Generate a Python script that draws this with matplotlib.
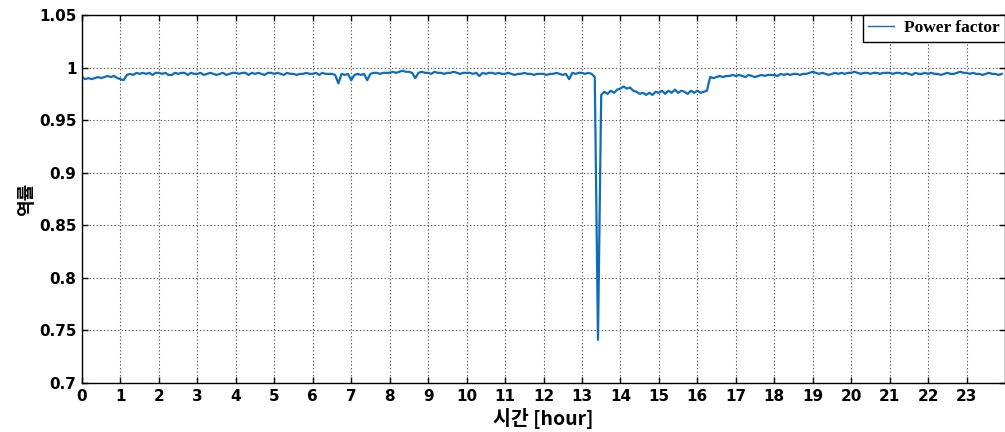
import numpy as np
import matplotlib
matplotlib.use("Agg")
import matplotlib.pyplot as plt

# Power factor sampled every 5 minutes, one row per hour (00..55 min)
pf_h00 = [0.991, 0.989, 0.990, 0.989, 0.990, 0.991, 0.990, 0.991, 0.992, 0.991, 0.992, 0.990]
pf_h01 = [0.989, 0.988, 0.993, 0.994, 0.993, 0.995, 0.994, 0.995, 0.994, 0.995, 0.993, 0.995]
pf_h02 = [0.995, 0.994, 0.995, 0.993, 0.993, 0.995, 0.994, 0.995, 0.995, 0.993, 0.995, 0.994]
pf_h03 = [0.994, 0.995, 0.993, 0.994, 0.995, 0.994, 0.993, 0.994, 0.995, 0.993, 0.994, 0.995]
pf_h04 = [0.995, 0.994, 0.995, 0.995, 0.993, 0.995, 0.994, 0.995, 0.994, 0.993, 0.995, 0.995]
pf_h05 = [0.994, 0.995, 0.994, 0.993, 0.995, 0.994, 0.994, 0.993, 0.994, 0.994, 0.995, 0.994]
pf_h06 = [0.994, 0.995, 0.993, 0.995, 0.994, 0.994, 0.994, 0.993, 0.985, 0.994, 0.993, 0.994]
pf_h07 = [0.988, 0.993, 0.994, 0.993, 0.994, 0.988, 0.994, 0.995, 0.995, 0.994, 0.995, 0.995]
pf_h08 = [0.995, 0.996, 0.995, 0.996, 0.997, 0.996, 0.996, 0.995, 0.990, 0.995, 0.996, 0.995]
pf_h09 = [0.995, 0.994, 0.996, 0.995, 0.995, 0.994, 0.995, 0.995, 0.996, 0.995, 0.994, 0.995]
pf_h10 = [0.995, 0.995, 0.994, 0.995, 0.992, 0.995, 0.994, 0.995, 0.995, 0.994, 0.995, 0.994]
pf_h11 = [0.994, 0.995, 0.994, 0.993, 0.994, 0.994, 0.995, 0.994, 0.994, 0.993, 0.994, 0.994]
pf_h12 = [0.994, 0.993, 0.994, 0.994, 0.995, 0.994, 0.993, 0.994, 0.989, 0.995, 0.994, 0.995]
pf_h13 = [0.995, 0.994, 0.995, 0.994, 0.991, 0.741, 0.974, 0.977, 0.975, 0.978, 0.976, 0.979]
pf_h14 = [0.980, 0.982, 0.980, 0.981, 0.978, 0.977, 0.975, 0.976, 0.974, 0.976, 0.974, 0.977]
pf_h15 = [0.976, 0.978, 0.975, 0.978, 0.976, 0.979, 0.976, 0.978, 0.977, 0.975, 0.978, 0.976]
pf_h16 = [0.978, 0.976, 0.977, 0.978, 0.991, 0.990, 0.991, 0.992, 0.991, 0.992, 0.992, 0.993]
pf_h17 = [0.992, 0.993, 0.992, 0.991, 0.993, 0.992, 0.991, 0.992, 0.993, 0.992, 0.993, 0.993]
pf_h18 = [0.993, 0.992, 0.994, 0.993, 0.994, 0.993, 0.994, 0.994, 0.993, 0.994, 0.994, 0.995]
pf_h19 = [0.996, 0.995, 0.994, 0.995, 0.994, 0.993, 0.994, 0.995, 0.994, 0.995, 0.994, 0.995]
pf_h20 = [0.995, 0.996, 0.995, 0.994, 0.995, 0.995, 0.994, 0.995, 0.995, 0.994, 0.995, 0.995]
pf_h21 = [0.995, 0.994, 0.995, 0.995, 0.994, 0.995, 0.994, 0.993, 0.995, 0.994, 0.994, 0.995]
pf_h22 = [0.994, 0.995, 0.994, 0.994, 0.993, 0.994, 0.995, 0.994, 0.994, 0.995, 0.996, 0.995]
pf_h23 = [0.995, 0.994, 0.995, 0.994, 0.994, 0.993, 0.994, 0.995, 0.994, 0.994, 0.993, 0.994]

hourly_rows = [pf_h00, pf_h01, pf_h02, pf_h03, pf_h04, pf_h05, pf_h06, pf_h07,
               pf_h08, pf_h09, pf_h10, pf_h11, pf_h12, pf_h13, pf_h14, pf_h15,
               pf_h16, pf_h17, pf_h18, pf_h19, pf_h20, pf_h21, pf_h22, pf_h23]
power_factor = np.concatenate(hourly_rows)
sample_minutes = 5
time_hours = np.arange(len(power_factor)) * sample_minutes / 60.0

x_ticks = list(range(0, 24))
y_ticks = [0.7, 0.75, 0.8, 0.85, 0.9, 0.95, 1.0, 1.05]
y_tick_labels = ["0.7", "0.75", "0.8", "0.85", "0.9", "0.95", "1", "1.05"]

plt.rcParams["font.family"] = ["DejaVu Sans"]

fig = plt.figure(figsize=(10.05, 4.32), dpi=100)
ax = fig.add_axes([82 / 1005, 1 - 383 / 432, (1005 - 82) / 1005, (383 - 15) / 432])

ax.plot(time_hours, power_factor, color="#0E6DB8", linewidth=1.6, label="Power factor")

ax.set_xlim(0, 24)
ax.set_ylim(0.7, 1.05)
ax.set_xticks(x_ticks)
ax.set_xticklabels([str(t) for t in x_ticks], fontsize=11, fontweight="bold")
ax.set_yticks(y_ticks)
ax.set_yticklabels(y_tick_labels, fontsize=11, fontweight="bold")
ax.tick_params(direction="in", length=4, width=1, top=True, right=True, pad=4)

ax.grid(True, color="0.35", linestyle=(0, (1.2, 2.0)), linewidth=0.8)
for sp in ax.spines.values():
    sp.set_linewidth(1.0)
    sp.set_color("black")

ax.set_ylabel("역률", fontsize=13, fontweight="bold",
              family=["Noto Sans CJK KR", "DejaVu Sans"], labelpad=2)
ax.set_xlabel("시간 [hour]", fontsize=14, fontweight="bold",
              family=["Noto Sans CJK KR", "DejaVu Sans"], labelpad=3)

leg = ax.legend(loc="upper right", bbox_to_anchor=(1.0, 1.0), borderaxespad=0.0,
                prop={"family": "Liberation Serif", "weight": "bold", "size": 12.5},
                fancybox=False, framealpha=1.0, edgecolor="black",
                handlelength=1.5, handletextpad=0.6, borderpad=0.3)
leg.get_frame().set_linewidth(1.0)
leg.get_lines()[0].set_linewidth(1.0)

fig.savefig("out.png", dpi=100)
